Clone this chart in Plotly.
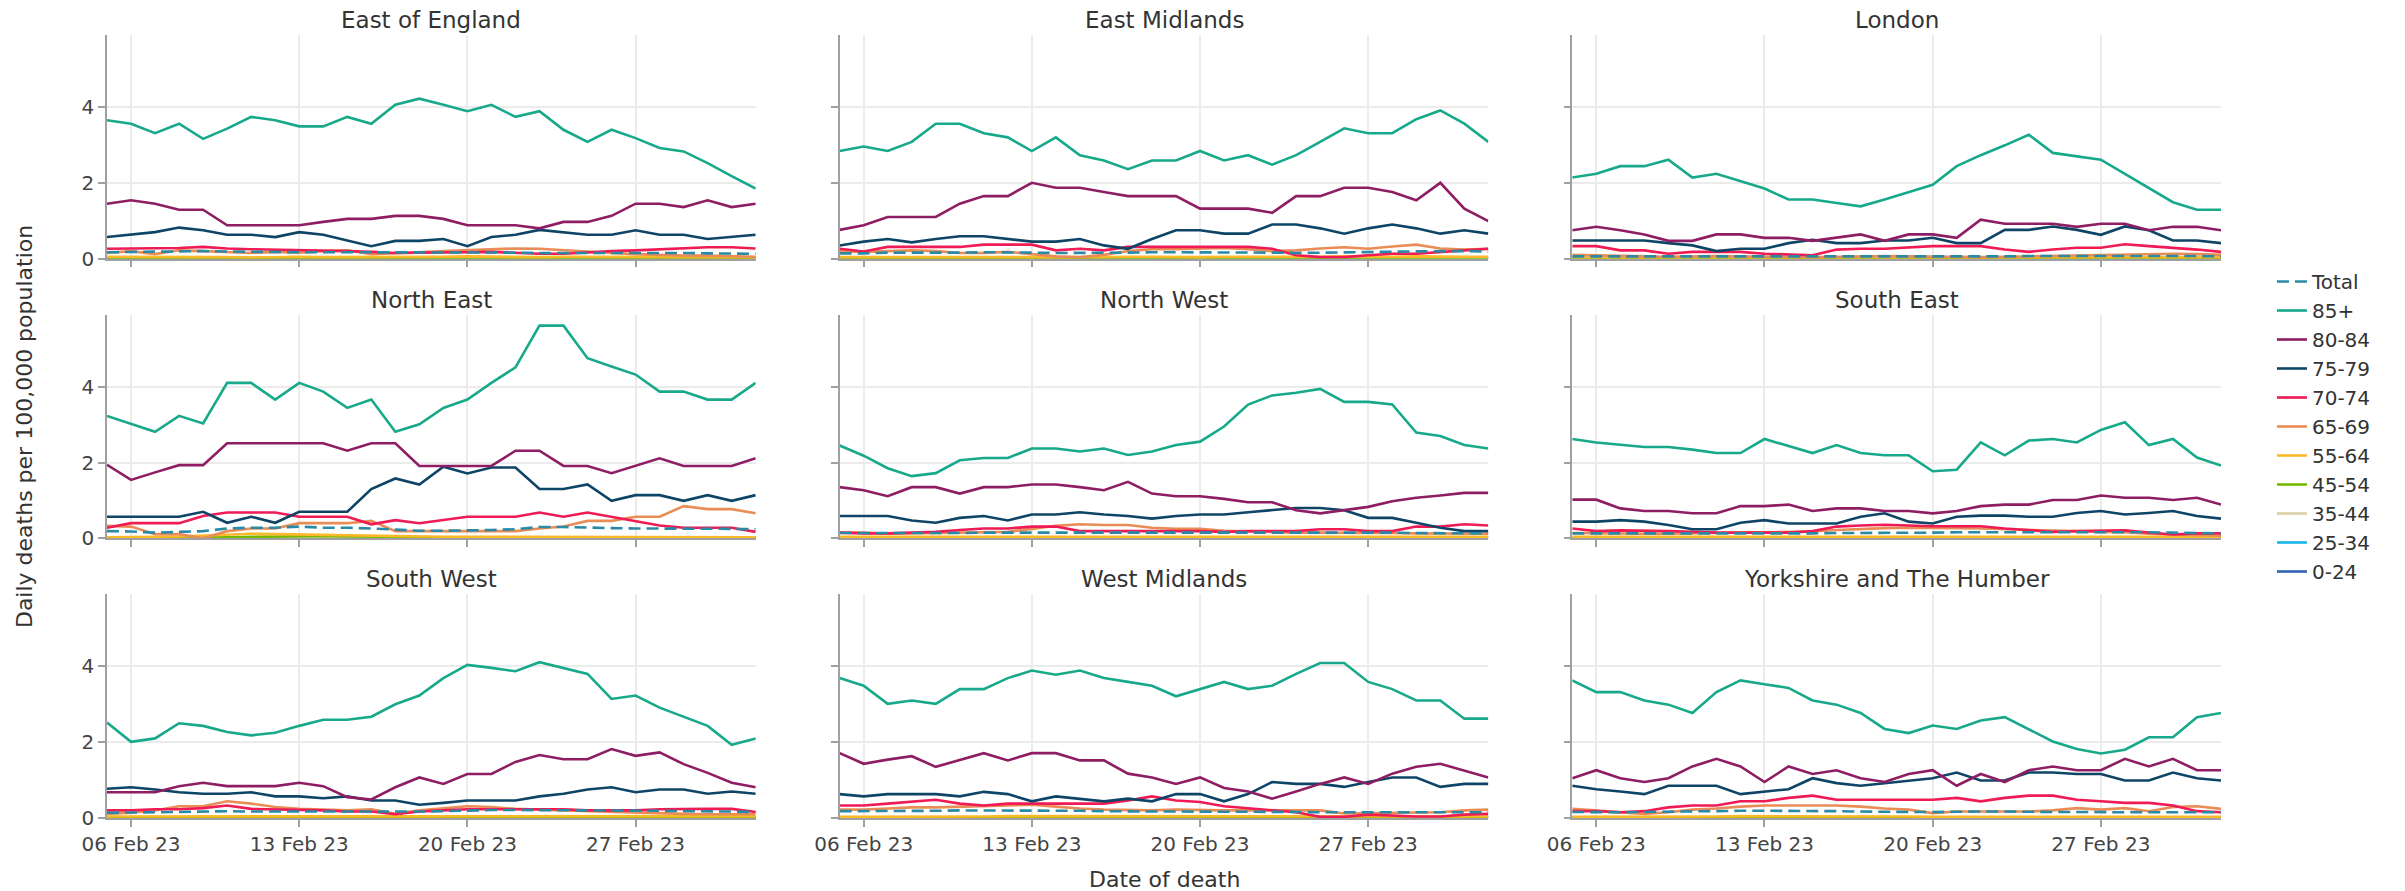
import pandas as pd
import plotly.graph_objects as go
from plotly.subplots import make_subplots

# Daily deaths per 100,000 population by age group, 05 Feb 2023 - 04 Mar 2023
dates = pd.date_range("2023-02-05", periods=28, freq="D")

regions = [
    "East of England", "East Midlands", "London",
    "North East", "North West", "South East",
    "South West", "West Midlands", "Yorkshire and The Humber",
]

series_names = ["Total", "85+", "80-84", "75-79", "70-74", "65-69",
                "55-64", "45-54", "35-44", "25-34", "0-24"]

series_colors = ["#2a8aa6", "#17a98a", "#8e1d63", "#0e4566", "#ee1b54", "#ea8c55",
                 "#fbb829", "#76b900", "#d9d0a8", "#1ab7ea", "#3161b0"]

# one list per region, in the order of `regions`
total = [
    [0.17,0.18,0.18,0.19,0.20,0.19,0.18,0.18,0.17,0.17,0.17,0.16,0.16,0.17,0.17,0.17,0.17,0.16,0.15,0.15,0.15,0.16,0.16,0.15,0.15,0.14,0.13,0.13],
    [0.14,0.14,0.16,0.16,0.15,0.16,0.17,0.17,0.16,0.15,0.15,0.15,0.16,0.17,0.17,0.16,0.16,0.16,0.16,0.15,0.16,0.17,0.17,0.18,0.19,0.20,0.20,0.19],
    [0.06,0.06,0.06,0.05,0.05,0.05,0.05,0.05,0.05,0.05,0.05,0.05,0.05,0.06,0.06,0.06,0.05,0.05,0.06,0.07,0.07,0.08,0.08,0.08,0.08,0.07,0.07,0.06],
    [0.19,0.18,0.15,0.17,0.19,0.26,0.28,0.28,0.31,0.28,0.28,0.26,0.24,0.20,0.20,0.20,0.22,0.24,0.30,0.30,0.28,0.27,0.26,0.26,0.25,0.25,0.25,0.24],
    [0.14,0.14,0.13,0.14,0.14,0.14,0.15,0.15,0.16,0.16,0.16,0.16,0.16,0.16,0.15,0.15,0.15,0.15,0.15,0.16,0.16,0.16,0.15,0.15,0.14,0.14,0.13,0.13],
    [0.13,0.13,0.13,0.13,0.12,0.12,0.12,0.12,0.12,0.13,0.13,0.14,0.14,0.15,0.15,0.15,0.16,0.16,0.16,0.16,0.16,0.16,0.17,0.17,0.16,0.15,0.14,0.13],
    [0.14,0.14,0.15,0.16,0.17,0.18,0.17,0.17,0.17,0.17,0.17,0.17,0.16,0.17,0.18,0.20,0.21,0.21,0.21,0.21,0.20,0.19,0.19,0.19,0.18,0.18,0.17,0.16],
    [0.18,0.18,0.19,0.19,0.19,0.20,0.20,0.20,0.20,0.20,0.19,0.18,0.17,0.17,0.17,0.17,0.16,0.16,0.16,0.16,0.15,0.15,0.15,0.15,0.15,0.15,0.15,0.15],
    [0.16,0.15,0.15,0.16,0.17,0.18,0.19,0.19,0.19,0.19,0.19,0.18,0.17,0.16,0.16,0.16,0.17,0.17,0.17,0.16,0.16,0.16,0.15,0.15,0.15,0.15,0.15,0.15],
]

age_85_plus = [
    [3.65,3.56,3.31,3.56,3.16,3.43,3.74,3.65,3.49,3.49,3.74,3.56,4.06,4.22,4.06,3.89,4.06,3.74,3.89,3.40,3.08,3.40,3.18,2.92,2.83,2.52,2.18,1.85],
    [2.84,2.96,2.84,3.08,3.56,3.56,3.31,3.20,2.84,3.20,2.73,2.59,2.36,2.59,2.59,2.84,2.59,2.73,2.48,2.73,3.08,3.44,3.31,3.31,3.68,3.91,3.56,3.08],
    [2.14,2.24,2.44,2.44,2.61,2.14,2.24,2.04,1.85,1.56,1.56,1.47,1.38,1.56,1.76,1.95,2.44,2.73,2.99,3.27,2.79,2.70,2.61,2.24,1.86,1.49,1.29,1.29],
    [3.23,3.01,2.81,3.23,3.03,4.10,4.10,3.66,4.10,3.87,3.44,3.66,2.81,3.01,3.44,3.66,4.10,4.51,5.61,5.61,4.75,4.53,4.32,3.87,3.87,3.66,3.66,4.10],
    [2.45,2.18,1.85,1.64,1.72,2.06,2.12,2.12,2.37,2.37,2.29,2.37,2.20,2.29,2.46,2.55,2.95,3.53,3.77,3.84,3.94,3.60,3.60,3.53,2.79,2.70,2.46,2.37],
    [2.62,2.53,2.47,2.41,2.41,2.34,2.25,2.25,2.62,2.44,2.25,2.46,2.25,2.19,2.19,1.77,1.81,2.53,2.19,2.58,2.62,2.53,2.86,3.06,2.46,2.62,2.13,1.92],
    [2.52,2.01,2.10,2.50,2.43,2.27,2.18,2.25,2.43,2.59,2.59,2.67,3.00,3.23,3.69,4.04,3.96,3.87,4.11,3.96,3.80,3.14,3.23,2.91,2.67,2.43,1.93,2.10],
    [3.69,3.49,3.01,3.10,3.01,3.40,3.40,3.69,3.89,3.78,3.89,3.69,3.59,3.49,3.21,3.40,3.59,3.40,3.49,3.80,4.09,4.09,3.59,3.40,3.10,3.10,2.62,2.62],
    [3.63,3.32,3.32,3.10,2.99,2.77,3.32,3.63,3.53,3.43,3.10,2.99,2.77,2.35,2.24,2.44,2.35,2.57,2.66,2.35,2.02,1.82,1.70,1.80,2.13,2.13,2.66,2.77],
]

age_80_84 = [
    [1.45,1.54,1.45,1.29,1.29,0.88,0.88,0.88,0.88,0.97,1.05,1.05,1.13,1.13,1.05,0.88,0.88,0.88,0.80,0.97,0.97,1.13,1.45,1.45,1.36,1.54,1.36,1.45],
    [0.76,0.88,1.10,1.10,1.10,1.45,1.65,1.65,2.00,1.87,1.87,1.76,1.65,1.65,1.65,1.32,1.32,1.32,1.21,1.65,1.65,1.87,1.87,1.76,1.54,2.00,1.32,0.99],
    [0.75,0.84,0.75,0.64,0.47,0.47,0.64,0.64,0.55,0.55,0.47,0.55,0.64,0.47,0.64,0.64,0.55,1.03,0.92,0.92,0.92,0.84,0.92,0.92,0.75,0.84,0.84,0.75],
    [1.94,1.54,1.74,1.93,1.93,2.51,2.51,2.51,2.51,2.51,2.31,2.51,2.51,1.91,1.91,1.91,1.91,2.31,2.31,1.91,1.91,1.72,1.91,2.11,1.91,1.91,1.91,2.11],
    [1.35,1.27,1.11,1.35,1.35,1.18,1.35,1.35,1.42,1.42,1.35,1.27,1.49,1.18,1.11,1.11,1.04,0.95,0.95,0.74,0.66,0.74,0.83,0.98,1.07,1.13,1.20,1.20],
    [1.02,1.02,0.79,0.72,0.72,0.66,0.66,0.85,0.85,0.89,0.72,0.79,0.79,0.72,0.72,0.66,0.72,0.85,0.89,0.89,1.01,1.01,1.13,1.07,1.07,1.01,1.07,0.89],
    [0.68,0.68,0.68,0.84,0.93,0.84,0.84,0.84,0.93,0.84,0.55,0.49,0.81,1.07,0.90,1.16,1.16,1.48,1.66,1.55,1.55,1.82,1.64,1.73,1.42,1.19,0.93,0.81],
    [1.71,1.43,1.54,1.63,1.35,1.54,1.71,1.52,1.71,1.71,1.52,1.52,1.17,1.07,0.90,1.07,0.79,0.70,0.51,0.70,0.90,1.07,0.90,1.17,1.35,1.43,1.26,1.07],
    [1.05,1.26,1.05,0.95,1.05,1.36,1.56,1.36,0.95,1.36,1.16,1.26,1.05,0.95,1.16,1.26,0.85,1.16,0.95,1.26,1.36,1.26,1.26,1.56,1.36,1.56,1.26,1.26],
]

age_75_79 = [
    [0.57,0.63,0.70,0.82,0.75,0.63,0.63,0.57,0.70,0.63,0.47,0.33,0.47,0.47,0.52,0.33,0.57,0.63,0.76,0.70,0.63,0.63,0.75,0.63,0.63,0.52,0.57,0.63],
    [0.35,0.45,0.52,0.43,0.52,0.59,0.59,0.52,0.45,0.45,0.52,0.35,0.26,0.52,0.75,0.75,0.66,0.66,0.90,0.90,0.80,0.66,0.80,0.90,0.80,0.66,0.75,0.66],
    [0.48,0.48,0.48,0.48,0.41,0.35,0.20,0.26,0.26,0.41,0.50,0.41,0.41,0.48,0.48,0.55,0.41,0.41,0.76,0.76,0.85,0.76,0.63,0.85,0.75,0.48,0.48,0.41],
    [0.57,0.57,0.57,0.57,0.70,0.41,0.57,0.41,0.70,0.70,0.70,1.30,1.58,1.42,1.89,1.71,1.87,1.87,1.30,1.30,1.42,0.99,1.14,1.14,0.99,1.14,0.99,1.14],
    [0.59,0.59,0.59,0.47,0.41,0.54,0.59,0.47,0.63,0.63,0.69,0.63,0.59,0.52,0.59,0.63,0.63,0.69,0.74,0.80,0.80,0.74,0.54,0.54,0.41,0.28,0.19,0.19],
    [0.44,0.44,0.48,0.44,0.35,0.24,0.24,0.41,0.48,0.39,0.39,0.39,0.57,0.66,0.44,0.39,0.57,0.60,0.60,0.57,0.57,0.67,0.72,0.63,0.67,0.72,0.59,0.52],
    [0.77,0.81,0.75,0.68,0.64,0.64,0.68,0.57,0.57,0.52,0.57,0.46,0.46,0.35,0.40,0.46,0.46,0.46,0.57,0.64,0.75,0.81,0.68,0.75,0.75,0.64,0.70,0.64],
    [0.63,0.57,0.63,0.63,0.63,0.57,0.69,0.63,0.44,0.57,0.51,0.44,0.51,0.44,0.63,0.63,0.44,0.63,0.95,0.90,0.90,0.82,0.95,1.07,1.07,0.82,0.90,0.90],
    [0.85,0.76,0.70,0.63,0.85,0.85,0.85,0.63,0.70,0.76,1.05,0.92,0.85,0.92,0.99,1.05,1.20,0.99,0.99,1.20,1.20,1.16,1.16,0.99,0.99,1.20,1.05,0.99],
]

age_70_74 = [
    [0.26,0.27,0.28,0.28,0.31,0.27,0.25,0.24,0.24,0.22,0.20,0.18,0.15,0.16,0.16,0.17,0.18,0.15,0.13,0.13,0.17,0.20,0.22,0.25,0.28,0.30,0.30,0.27],
    [0.26,0.19,0.31,0.31,0.31,0.31,0.37,0.37,0.37,0.22,0.26,0.22,0.31,0.31,0.31,0.31,0.31,0.31,0.26,0.09,0.04,0.04,0.09,0.13,0.13,0.18,0.22,0.26],
    [0.33,0.33,0.22,0.22,0.13,0.18,0.18,0.18,0.13,0.11,0.09,0.24,0.26,0.26,0.29,0.33,0.33,0.33,0.24,0.18,0.24,0.29,0.29,0.38,0.33,0.29,0.24,0.18],
    [0.28,0.40,0.40,0.40,0.59,0.68,0.68,0.68,0.57,0.57,0.57,0.37,0.48,0.40,0.48,0.57,0.57,0.57,0.68,0.57,0.68,0.57,0.46,0.34,0.28,0.28,0.28,0.17],
    [0.15,0.13,0.13,0.15,0.17,0.22,0.26,0.26,0.31,0.31,0.19,0.19,0.19,0.19,0.19,0.19,0.17,0.19,0.19,0.19,0.24,0.24,0.19,0.19,0.31,0.31,0.37,0.34],
    [0.26,0.19,0.21,0.21,0.19,0.17,0.15,0.15,0.15,0.15,0.19,0.31,0.34,0.36,0.34,0.32,0.32,0.32,0.26,0.21,0.17,0.19,0.21,0.21,0.15,0.10,0.13,0.13],
    [0.20,0.20,0.23,0.23,0.26,0.33,0.24,0.23,0.23,0.20,0.17,0.17,0.10,0.17,0.20,0.23,0.23,0.23,0.24,0.23,0.20,0.20,0.20,0.23,0.24,0.24,0.24,0.16],
    [0.33,0.33,0.38,0.44,0.48,0.38,0.33,0.38,0.38,0.38,0.38,0.38,0.46,0.57,0.46,0.42,0.31,0.26,0.22,0.15,0.03,0.03,0.09,0.06,0.04,0.04,0.09,0.11],
    [0.18,0.18,0.15,0.18,0.28,0.33,0.33,0.44,0.44,0.53,0.59,0.48,0.48,0.48,0.48,0.48,0.53,0.44,0.53,0.59,0.59,0.48,0.44,0.40,0.40,0.33,0.18,0.15],
]

age_65_69 = [
    [0.15,0.20,0.12,0.22,0.20,0.18,0.15,0.18,0.16,0.20,0.22,0.12,0.14,0.17,0.20,0.22,0.24,0.27,0.26,0.22,0.18,0.15,0.12,0.10,0.08,0.08,0.06,0.05],
    [0.20,0.18,0.20,0.22,0.20,0.15,0.15,0.18,0.12,0.06,0.04,0.10,0.20,0.25,0.25,0.26,0.28,0.25,0.20,0.22,0.27,0.30,0.26,0.32,0.37,0.27,0.24,0.26],
    [0.10,0.08,0.07,0.06,0.05,0.06,0.07,0.06,0.05,0.05,0.04,0.05,0.06,0.07,0.06,0.05,0.04,0.04,0.05,0.06,0.07,0.08,0.09,0.10,0.11,0.13,0.12,0.10],
    [0.33,0.31,0.11,0.11,0.00,0.19,0.26,0.26,0.40,0.40,0.40,0.46,0.19,0.19,0.19,0.19,0.19,0.19,0.26,0.31,0.46,0.46,0.57,0.57,0.85,0.77,0.77,0.66],
    [0.15,0.15,0.12,0.13,0.14,0.15,0.15,0.17,0.25,0.33,0.37,0.35,0.35,0.28,0.25,0.25,0.20,0.18,0.16,0.15,0.15,0.15,0.14,0.14,0.13,0.13,0.12,0.12],
    [0.14,0.13,0.12,0.12,0.12,0.13,0.14,0.14,0.15,0.16,0.18,0.22,0.25,0.27,0.28,0.28,0.27,0.26,0.24,0.22,0.20,0.18,0.17,0.16,0.12,0.10,0.08,0.07],
    [0.11,0.14,0.20,0.31,0.31,0.44,0.38,0.29,0.24,0.23,0.20,0.23,0.11,0.20,0.26,0.31,0.29,0.24,0.22,0.20,0.18,0.15,0.14,0.13,0.11,0.10,0.10,0.10],
    [0.22,0.22,0.25,0.28,0.28,0.30,0.32,0.33,0.35,0.30,0.25,0.22,0.20,0.20,0.22,0.20,0.20,0.20,0.20,0.20,0.20,0.12,0.13,0.13,0.14,0.15,0.20,0.22],
    [0.24,0.20,0.15,0.11,0.15,0.22,0.25,0.30,0.33,0.33,0.33,0.33,0.30,0.25,0.22,0.13,0.17,0.17,0.18,0.17,0.20,0.26,0.22,0.26,0.18,0.29,0.31,0.24],
]

age_55_64 = [
    [0.05,0.05,0.04,0.05,0.04,0.04,0.03,0.04,0.05,0.04,0.04,0.05,0.04,0.05,0.05,0.06,0.05,0.04,0.04,0.05,0.05,0.04,0.05,0.04,0.04,0.05,0.04,0.03],
    [0.04,0.04,0.05,0.04,0.04,0.05,0.05,0.04,0.04,0.03,0.04,0.04,0.05,0.05,0.04,0.04,0.05,0.05,0.04,0.04,0.05,0.06,0.05,0.05,0.06,0.05,0.05,0.05],
    [0.03,0.03,0.03,0.03,0.02,0.02,0.03,0.03,0.03,0.03,0.03,0.02,0.03,0.03,0.03,0.03,0.03,0.03,0.03,0.03,0.04,0.04,0.04,0.04,0.04,0.04,0.04,0.04],
    [0.03,0.03,0.04,0.05,0.07,0.10,0.12,0.11,0.10,0.08,0.07,0.06,0.05,0.05,0.04,0.04,0.04,0.03,0.03,0.03,0.04,0.04,0.04,0.04,0.04,0.04,0.03,0.03],
    [0.04,0.04,0.04,0.04,0.05,0.05,0.05,0.05,0.05,0.05,0.05,0.05,0.04,0.04,0.04,0.04,0.04,0.04,0.04,0.04,0.04,0.04,0.04,0.04,0.04,0.04,0.04,0.04],
    [0.04,0.04,0.04,0.04,0.04,0.04,0.04,0.04,0.04,0.04,0.04,0.04,0.05,0.05,0.05,0.05,0.05,0.05,0.05,0.05,0.05,0.05,0.04,0.04,0.04,0.04,0.04,0.04],
    [0.04,0.04,0.04,0.04,0.04,0.04,0.04,0.04,0.04,0.04,0.04,0.04,0.04,0.04,0.04,0.04,0.05,0.05,0.05,0.05,0.05,0.05,0.05,0.05,0.05,0.05,0.05,0.05],
    [0.03,0.03,0.03,0.03,0.04,0.04,0.04,0.05,0.05,0.05,0.05,0.05,0.04,0.04,0.04,0.04,0.04,0.04,0.04,0.04,0.04,0.04,0.04,0.04,0.04,0.04,0.04,0.04],
    [0.03,0.03,0.03,0.03,0.03,0.04,0.04,0.05,0.05,0.05,0.05,0.05,0.05,0.04,0.04,0.03,0.03,0.03,0.03,0.03,0.03,0.03,0.03,0.03,0.03,0.03,0.03,0.03],
]

age_45_54 = [
    [0.02,0.02,0.02,0.02,0.02,0.02,0.02,0.02,0.02,0.02,0.02,0.02,0.02,0.02,0.03,0.03,0.03,0.03,0.03,0.03,0.03,0.03,0.03,0.02,0.02,0.02,0.02,0.02],
    [0.02,0.02,0.02,0.02,0.02,0.02,0.02,0.02,0.02,0.02,0.02,0.02,0.02,0.02,0.02,0.02,0.02,0.02,0.02,0.02,0.02,0.02,0.03,0.03,0.03,0.03,0.03,0.03],
    [0.01,0.01,0.01,0.01,0.01,0.01,0.01,0.01,0.01,0.01,0.01,0.01,0.01,0.01,0.01,0.01,0.01,0.01,0.01,0.01,0.01,0.01,0.01,0.01,0.01,0.01,0.01,0.01],
    [0.01,0.01,0.01,0.02,0.02,0.03,0.04,0.05,0.05,0.06,0.05,0.05,0.04,0.03,0.02,0.02,0.02,0.01,0.01,0.01,0.01,0.01,0.01,0.01,0.01,0.01,0.01,0.01],
    [0.02,0.02,0.02,0.02,0.02,0.02,0.02,0.02,0.02,0.02,0.02,0.02,0.02,0.01,0.01,0.01,0.01,0.01,0.01,0.01,0.01,0.01,0.01,0.01,0.01,0.01,0.01,0.01],
    [0.01,0.01,0.01,0.01,0.01,0.01,0.01,0.01,0.01,0.01,0.01,0.01,0.01,0.01,0.01,0.01,0.01,0.01,0.01,0.01,0.01,0.01,0.01,0.01,0.01,0.01,0.01,0.01],
    [0.01,0.01,0.01,0.01,0.01,0.01,0.01,0.01,0.01,0.01,0.01,0.01,0.01,0.01,0.01,0.01,0.01,0.01,0.01,0.01,0.01,0.01,0.01,0.01,0.01,0.01,0.01,0.01],
    [0.01,0.01,0.01,0.01,0.01,0.02,0.02,0.02,0.02,0.02,0.02,0.02,0.02,0.02,0.01,0.01,0.01,0.01,0.01,0.01,0.01,0.01,0.01,0.01,0.01,0.01,0.01,0.01],
    [0.01,0.01,0.01,0.01,0.01,0.02,0.02,0.02,0.02,0.02,0.02,0.02,0.02,0.01,0.01,0.01,0.01,0.01,0.01,0.01,0.01,0.01,0.01,0.01,0.01,0.01,0.01,0.01],
]

age_35_44 = [
    [0.01,0.01,0.01,0.01,0.01,0.01,0.01,0.01,0.01,0.01,0.01,0.01,0.01,0.01,0.01,0.01,0.01,0.01,0.01,0.01,0.01,0.01,0.01,0.01,0.01,0.01,0.01,0.01],
    [0.01,0.01,0.01,0.01,0.01,0.01,0.01,0.01,0.01,0.01,0.01,0.01,0.01,0.01,0.01,0.01,0.01,0.01,0.01,0.01,0.01,0.01,0.01,0.01,0.01,0.01,0.01,0.01],
    [0.01,0.01,0.01,0.01,0.01,0.01,0.01,0.01,0.01,0.01,0.01,0.01,0.01,0.01,0.01,0.01,0.01,0.01,0.01,0.01,0.01,0.01,0.01,0.01,0.01,0.01,0.01,0.01],
    [0.01,0.01,0.01,0.01,0.01,0.02,0.02,0.02,0.02,0.02,0.02,0.02,0.01,0.01,0.01,0.01,0.01,0.01,0.01,0.01,0.01,0.01,0.01,0.01,0.01,0.01,0.01,0.01],
    [0.01,0.01,0.01,0.01,0.01,0.01,0.01,0.01,0.01,0.01,0.01,0.01,0.01,0.01,0.01,0.01,0.01,0.01,0.01,0.01,0.01,0.01,0.01,0.01,0.01,0.01,0.01,0.01],
    [0.01,0.01,0.01,0.01,0.01,0.01,0.01,0.01,0.01,0.01,0.01,0.01,0.01,0.01,0.01,0.01,0.01,0.01,0.01,0.01,0.01,0.01,0.01,0.01,0.01,0.01,0.01,0.01],
    [0.01,0.01,0.01,0.01,0.01,0.01,0.01,0.01,0.01,0.01,0.01,0.01,0.01,0.01,0.01,0.01,0.01,0.01,0.01,0.01,0.01,0.01,0.01,0.01,0.01,0.01,0.01,0.01],
    [0.01,0.01,0.01,0.01,0.01,0.01,0.01,0.01,0.01,0.01,0.01,0.01,0.01,0.01,0.01,0.01,0.01,0.01,0.01,0.01,0.01,0.01,0.01,0.01,0.01,0.01,0.01,0.01],
    [0.01,0.01,0.01,0.01,0.01,0.01,0.01,0.01,0.01,0.01,0.01,0.01,0.01,0.01,0.01,0.01,0.01,0.01,0.01,0.01,0.01,0.01,0.01,0.01,0.01,0.01,0.01,0.01],
]

age_25_34 = [
    [0.005,0.005,0.005,0.005,0.005,0.005,0.005,0.005,0.005,0.005,0.005,0.005,0.005,0.005,0.005,0.005,0.005,0.005,0.005,0.005,0.005,0.005,0.005,0.005,0.005,0.005,0.005,0.005],
    [0.005,0.005,0.005,0.005,0.005,0.005,0.005,0.005,0.005,0.005,0.005,0.005,0.005,0.005,0.005,0.005,0.005,0.005,0.005,0.005,0.005,0.005,0.005,0.005,0.005,0.005,0.005,0.005],
    [0.004,0.004,0.004,0.004,0.004,0.004,0.004,0.004,0.004,0.004,0.004,0.004,0.004,0.004,0.004,0.004,0.004,0.004,0.004,0.004,0.004,0.004,0.004,0.004,0.004,0.004,0.004,0.004],
    [0.005,0.005,0.005,0.005,0.005,0.005,0.005,0.005,0.005,0.005,0.005,0.005,0.005,0.005,0.005,0.005,0.005,0.005,0.005,0.005,0.005,0.005,0.005,0.005,0.005,0.005,0.005,0.005],
    [0.005,0.005,0.005,0.005,0.005,0.005,0.005,0.005,0.005,0.005,0.005,0.005,0.005,0.005,0.005,0.005,0.005,0.005,0.005,0.005,0.005,0.005,0.005,0.005,0.005,0.005,0.005,0.005],
    [0.004,0.004,0.004,0.004,0.004,0.004,0.004,0.004,0.004,0.004,0.004,0.004,0.004,0.004,0.004,0.004,0.004,0.004,0.004,0.004,0.004,0.004,0.004,0.004,0.004,0.004,0.004,0.004],
    [0.004,0.004,0.004,0.004,0.004,0.004,0.004,0.004,0.004,0.004,0.004,0.004,0.004,0.004,0.004,0.004,0.004,0.004,0.004,0.004,0.004,0.004,0.004,0.004,0.004,0.004,0.004,0.004],
    [0.005,0.005,0.005,0.005,0.005,0.005,0.005,0.005,0.005,0.005,0.005,0.005,0.005,0.005,0.005,0.005,0.005,0.005,0.005,0.005,0.005,0.005,0.005,0.005,0.005,0.005,0.005,0.005],
    [0.005,0.005,0.005,0.005,0.005,0.005,0.005,0.005,0.005,0.005,0.005,0.005,0.005,0.005,0.005,0.005,0.005,0.005,0.005,0.005,0.005,0.005,0.005,0.005,0.005,0.005,0.005,0.005],
]

age_0_24 = [
    [0.002,0.002,0.002,0.002,0.002,0.002,0.002,0.002,0.002,0.002,0.002,0.002,0.002,0.002,0.002,0.002,0.002,0.002,0.002,0.002,0.002,0.002,0.002,0.002,0.002,0.002,0.002,0.002],
    [0.002,0.002,0.002,0.002,0.002,0.002,0.002,0.002,0.002,0.002,0.002,0.002,0.002,0.002,0.002,0.002,0.002,0.002,0.002,0.002,0.002,0.002,0.002,0.002,0.002,0.002,0.002,0.002],
    [0.002,0.002,0.002,0.002,0.002,0.002,0.002,0.002,0.002,0.002,0.002,0.002,0.002,0.002,0.002,0.002,0.002,0.002,0.002,0.002,0.002,0.002,0.002,0.002,0.002,0.002,0.002,0.002],
    [0.002,0.002,0.002,0.002,0.002,0.002,0.002,0.002,0.002,0.002,0.002,0.002,0.002,0.002,0.002,0.002,0.002,0.002,0.002,0.002,0.002,0.002,0.002,0.002,0.002,0.002,0.002,0.002],
    [0.002,0.002,0.002,0.002,0.002,0.002,0.002,0.002,0.002,0.002,0.002,0.002,0.002,0.002,0.002,0.002,0.002,0.002,0.002,0.002,0.002,0.002,0.002,0.002,0.002,0.002,0.002,0.002],
    [0.002,0.002,0.002,0.002,0.002,0.002,0.002,0.002,0.002,0.002,0.002,0.002,0.002,0.002,0.002,0.002,0.002,0.002,0.002,0.002,0.002,0.002,0.002,0.002,0.002,0.002,0.002,0.002],
    [0.002,0.002,0.002,0.002,0.002,0.002,0.002,0.002,0.002,0.002,0.002,0.002,0.002,0.002,0.002,0.002,0.002,0.002,0.002,0.002,0.002,0.002,0.002,0.002,0.002,0.002,0.002,0.002],
    [0.002,0.002,0.002,0.002,0.002,0.002,0.002,0.002,0.002,0.002,0.002,0.002,0.002,0.002,0.002,0.002,0.002,0.002,0.002,0.002,0.002,0.002,0.002,0.002,0.002,0.002,0.002,0.002],
    [0.002,0.002,0.002,0.002,0.002,0.002,0.002,0.002,0.002,0.002,0.002,0.002,0.002,0.002,0.002,0.002,0.002,0.002,0.002,0.002,0.002,0.002,0.002,0.002,0.002,0.002,0.002,0.002],
]

series_values = [total, age_85_plus, age_80_84, age_75_79, age_70_74, age_65_69,
                 age_55_64, age_45_54, age_35_44, age_25_34, age_0_24]

FONT = "DejaVu Sans, Verdana, sans-serif"
TEXT = "#333333"
GRID = "#ebebeb"
AXIS = "#a0a0a0"

fig = make_subplots(
    rows=3, cols=3,
    shared_xaxes=True, shared_yaxes=True,
    horizontal_spacing=0.0397, vertical_spacing=0.0715,
    subplot_titles=regions,
)

# draw small age groups first so the larger ones and the total sit on top
for s in reversed(range(len(series_names))):
    name = series_names[s]
    for r, region in enumerate(regions):
        row, col = r // 3 + 1, r % 3 + 1
        fig.add_trace(
            go.Scatter(
                x=dates, y=series_values[s][r], mode="lines", name=name,
                legendgroup=name, showlegend=(r == 0),
                line=dict(color=series_colors[s], width=2.6,
                          dash="12px,6px" if name == "Total" else "solid"),
                hovertemplate="%{x|%d %b %Y}<br>" + name + ": %{y:.2f}<extra>" + region + "</extra>",
            ),
            row=row, col=col,
        )

fig.update_xaxes(
    type="date", range=["2023-02-05", "2023-03-04"],
    tick0="2023-02-06", dtick=7 * 86400000, tickformat="%d %b %y",
    showgrid=True, gridcolor=GRID, gridwidth=1.5,
    showline=True, linecolor=AXIS, linewidth=1.5,
    ticks="outside", ticklen=7, tickcolor=AXIS, tickwidth=1.5,
    zeroline=False,
    tickfont=dict(family=FONT, size=20, color="#444444"),
)
fig.update_yaxes(
    range=[0, 5.9], tickvals=[0, 2, 4],
    showgrid=True, gridcolor=GRID, gridwidth=1.5,
    showline=True, linecolor=AXIS, linewidth=1.5,
    ticks="outside", ticklen=7, tickcolor=AXIS, tickwidth=1.5,
    zeroline=False,
    tickfont=dict(family=FONT, size=20, color="#444444"),
)

fig.update_annotations(font=dict(family=FONT, size=23, color=TEXT))

fig.add_annotation(
    text="Daily deaths per 100,000 population", textangle=-90,
    xref="paper", yref="paper", x=-0.039, y=0.5,
    xanchor="center", yanchor="middle", showarrow=False,
    font=dict(family=FONT, size=22, color=TEXT),
)
fig.add_annotation(
    text="Date of death",
    xref="paper", yref="paper", x=0.5, y=-0.078,
    xanchor="center", yanchor="middle", showarrow=False,
    font=dict(family=FONT, size=22, color=TEXT),
)

fig.update_layout(
    width=2405, height=891,
    margin=dict(l=107, r=184, t=35, b=73),
    paper_bgcolor="white", plot_bgcolor="white",
    font=dict(family=FONT, color=TEXT),
    legend=dict(
        traceorder="reversed", tracegroupgap=12,
        x=1.0241, y=0.5, xanchor="left", yanchor="middle",
        font=dict(family=FONT, size=20, color=TEXT),
        bgcolor="rgba(0,0,0,0)",
    ),
)

fig.write_html("out.html")
